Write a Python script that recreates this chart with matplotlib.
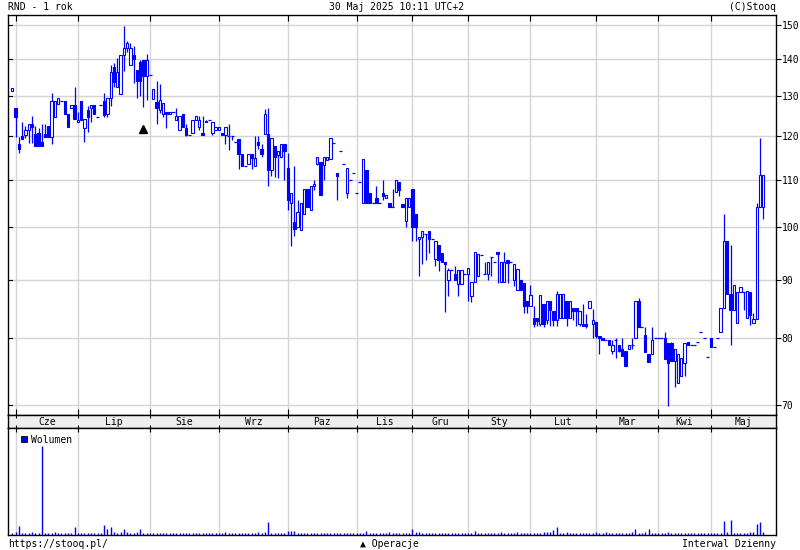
import matplotlib
matplotlib.use("Agg")
import matplotlib.pyplot as plt
from matplotlib.patches import Rectangle
from matplotlib.ticker import FixedLocator, NullLocator, NullFormatter
import matplotlib.transforms as mtrans

# ---------------- data ----------------
opens = [131.5, 126.9, 118.2, 120.0, 120.4, 121.5, 122.9, 120.5, 120.9, 118.6,
         120.5, 122.5, 119.8, 124.8, 128.1, 128.7, 128.7, 125.4, 126.9, 127.7,
         123.4, 128.7, 121.9, 126.5, 126.9, 127.7, 124.8, 127.7, 128.7, 125.4,
         129.7, 137.9, 132.5, 130.7, 141.2, 143.2, 138.5, 141.2, 137.0, 139.4,
         139.7, 135.3, 135.8, 129.4, 128.6, 126.5, 125.4, 126.0, 125.4, 126.0,
         124.0, 121.5, 125.4, 121.9, 120.2, 120.9, 124.0, 122.3, 120.9, 123.7,
         124.0, 120.9, 121.5, 121.5, 120.9, 120.4, 120.0, 120.0, 118.6, 119.4,
         115.8, 113.0, 113.6, 115.8, 113.0, 118.6, 116.9, 120.6, 120.5, 112.2,
         117.7, 115.6, 115.1, 118.2, 112.5, 105.0, 101.0, 100.0, 99.5, 102.6,
         107.9, 103.6, 108.5, 113.5, 113.9, 113.2, 114.5, 114.6, 118.5, 111.4,
         116.5, 113.5, 107.1, 110.0, 111.4, 107.1, 109.5, 105.0, 112.2, 107.1,
         105.0, 106.0, 105.0, 107.1, 106.0, 105.0, 104.2, 107.4, 109.4, 104.7,
         101.2, 104.2, 107.9, 102.6, 97.6, 98.1, 98.7, 99.2, 97.6, 93.8,
         96.5, 94.9, 93.2, 90.0, 91.7, 91.1, 89.3, 89.3, 91.1, 91.1,
         87.1, 89.6, 90.6, 94.6, 91.1, 91.1, 94.1, 93.2, 95.1, 89.6,
         89.6, 93.6, 93.2, 90.0, 88.1, 90.0, 89.4, 86.3, 85.4, 83.4,
         83.4, 82.3, 85.7, 83.0, 86.2, 84.6, 83.0, 83.4, 83.4, 86.2,
         83.4, 85.0, 85.0, 82.3, 82.3, 82.3, 85.0, 82.3, 82.6, 80.4,
         80.0, 79.8, 79.8, 78.0, 79.7, 78.9, 78.3, 78.0, 78.3, 79.0,
         80.0, 86.2, 81.9, 80.6, 77.6, 77.5, 80.0, 80.0, 80.0, 80.0,
         79.25, 79.25, 76.5, 73.1, 74.15, 76.1, 79.4, 78.9, 78.9, 79.4,
         81.1, 80.0, 77.15, 80.0, 78.65, 80.0, 81.0, 85.0, 97.2, 87.5,
         84.7, 82.5, 87.8, 87.8, 83.4, 87.8, 82.5, 83.1, 104.2, 104.2]

highs = [132.2, 126.9, 119.8, 123.6, 122.5, 122.9, 125.0, 122.5, 121.9, 123.0,
         123.0, 122.5, 130.8, 128.7, 129.7, 128.7, 128.7, 125.4, 127.7, 132.5,
         126.0, 128.7, 124.3, 127.5, 127.7, 127.7, 124.8, 127.7, 130.8, 129.7,
         138.5, 139.0, 140.3, 141.2, 149.8, 145.2, 144.6, 143.7, 137.0, 139.8,
         139.7, 141.6, 135.8, 131.8, 134.0, 133.3, 128.3, 126.0, 126.0, 126.0,
         127.0, 125.0, 125.4, 123.1, 120.2, 124.0, 125.0, 125.0, 125.0, 124.0,
         124.0, 123.4, 122.3, 122.3, 120.9, 122.3, 122.9, 120.0, 118.6, 119.4,
         115.8, 113.0, 115.8, 115.8, 120.0, 120.0, 118.2, 126.7, 126.9, 119.5,
         117.7, 116.4, 118.2, 118.2, 116.0, 107.1, 113.1, 105.7, 105.0, 107.9,
         107.9, 108.5, 110.0, 115.1, 113.9, 115.1, 115.1, 119.5, 118.5, 111.4,
         116.5, 113.5, 112.5, 110.0, 111.4, 107.1, 109.5, 114.6, 112.2, 107.1,
         105.0, 108.6, 105.0, 110.0, 106.7, 105.0, 107.9, 110.0, 109.5, 104.7,
         106.0, 106.0, 107.9, 102.6, 98.1, 99.3, 98.7, 99.2, 97.6, 97.3,
         96.5, 94.9, 93.2, 92.2, 91.7, 92.5, 91.7, 91.7, 91.1, 92.1,
         89.6, 95.1, 94.7, 94.6, 93.2, 93.2, 94.1, 93.2, 95.1, 93.2,
         95.1, 93.6, 93.2, 92.8, 91.9, 90.0, 89.4, 86.3, 89.1, 85.4,
         83.4, 87.3, 85.7, 86.2, 86.2, 84.6, 88.0, 87.5, 87.5, 86.2,
         86.2, 85.0, 85.0, 84.6, 85.7, 84.0, 86.2, 84.9, 82.6, 80.4,
         80.0, 79.8, 79.8, 79.8, 80.0, 78.9, 80.0, 78.0, 79.0, 80.0,
         86.2, 86.7, 81.9, 81.9, 77.6, 81.9, 80.0, 80.0, 80.0, 81.0,
         79.25, 79.5, 78.25, 77.5, 76.85, 79.25, 79.4, 78.9, 78.9, 79.4,
         81.1, 80.0, 77.15, 80.0, 78.65, 80.0, 85.0, 102.6, 97.2, 96.5,
         89.0, 87.8, 88.7, 87.8, 88.0, 87.8, 84.2, 105.0, 119.5, 111.0]

lows = [131.4, 119.8, 116.1, 119.4, 119.5, 118.5, 118.5, 117.7, 117.7, 117.7,
        119.8, 119.8, 118.1, 124.8, 128.1, 128.7, 125.4, 122.3, 126.9, 124.2,
        123.4, 124.0, 118.6, 121.0, 123.4, 125.4, 124.8, 127.7, 124.8, 124.8,
        127.6, 132.5, 132.5, 130.7, 136.9, 142.1, 138.5, 133.5, 129.7, 130.0,
        127.3, 129.0, 135.8, 129.4, 122.9, 125.7, 124.8, 121.9, 125.4, 126.0,
        124.0, 121.5, 122.3, 120.0, 120.2, 120.9, 124.0, 121.5, 120.4, 123.4,
        124.0, 120.4, 121.5, 121.5, 120.4, 118.1, 116.7, 119.0, 118.6, 112.4,
        113.0, 113.0, 113.6, 112.4, 113.0, 116.9, 115.0, 120.6, 108.5, 110.8,
        110.6, 110.4, 115.1, 109.9, 103.6, 96.3, 98.2, 100.0, 99.5, 102.6,
        104.2, 103.6, 107.8, 113.2, 106.6, 110.0, 114.5, 114.6, 118.5, 105.7,
        116.5, 113.5, 106.0, 110.0, 111.4, 107.1, 109.5, 105.0, 105.0, 105.0,
        105.0, 105.0, 105.0, 105.7, 106.0, 104.2, 104.2, 107.4, 106.5, 104.2,
        100.0, 104.2, 97.3, 97.3, 90.6, 92.8, 93.7, 94.9, 97.6, 92.5,
        91.6, 93.2, 84.3, 87.1, 91.7, 90.0, 87.1, 89.3, 91.1, 86.3,
        86.0, 89.6, 90.6, 94.6, 91.1, 89.9, 90.6, 93.2, 89.4, 89.6,
        89.6, 89.4, 93.2, 88.9, 88.1, 88.1, 84.2, 84.2, 85.4, 81.9,
        82.0, 82.0, 81.9, 82.3, 82.0, 82.0, 82.0, 83.4, 83.4, 82.0,
        83.4, 83.0, 82.0, 82.0, 82.0, 81.7, 85.0, 80.0, 80.0, 77.6,
        79.8, 79.8, 78.9, 77.6, 76.9, 77.8, 77.3, 75.7, 78.3, 78.3,
        80.0, 81.9, 81.9, 77.9, 76.3, 77.5, 80.0, 80.0, 80.0, 76.75,
        69.9, 76.5, 72.6, 73.1, 74.15, 74.25, 78.9, 78.9, 78.9, 79.4,
        81.1, 80.0, 77.15, 78.65, 78.65, 80.0, 81.0, 85.0, 87.5, 78.9,
        84.7, 82.5, 87.8, 84.7, 83.4, 82.2, 82.5, 83.1, 104.2, 101.6]

closes = [132.1, 124.8, 117.0, 119.4, 121.5, 122.9, 122.3, 117.7, 117.7, 117.7,
          119.8, 119.8, 128.7, 128.7, 129.7, 128.7, 125.4, 122.3, 127.7, 124.2,
          124.0, 124.0, 124.3, 124.8, 127.7, 125.4, 124.8, 127.7, 125.2, 129.7,
          136.5, 133.9, 136.6, 141.2, 143.2, 144.6, 143.2, 140.1, 134.0, 134.0,
          135.3, 139.7, 135.8, 131.8, 126.9, 129.0, 128.3, 125.4, 126.0, 126.0,
          125.0, 125.0, 122.3, 120.2, 120.2, 124.0, 125.0, 124.0, 120.4, 123.4,
          124.0, 123.4, 122.3, 122.3, 120.4, 122.3, 120.0, 120.0, 118.6, 115.8,
          113.0, 113.0, 115.8, 114.9, 114.9, 118.0, 115.8, 125.4, 112.2, 119.5,
          115.1, 116.4, 118.2, 116.4, 105.7, 107.1, 99.6, 103.1, 105.0, 107.9,
          104.2, 108.5, 109.0, 115.1, 106.6, 115.1, 115.1, 119.5, 118.5, 110.8,
          116.5, 113.5, 112.5, 110.0, 111.4, 107.1, 109.5, 114.6, 105.0, 105.0,
          105.0, 105.0, 105.0, 106.5, 106.7, 104.2, 104.2, 110.0, 107.8, 104.2,
          106.0, 106.0, 100.0, 100.0, 98.1, 99.3, 98.7, 97.6, 97.6, 97.3,
          93.7, 93.2, 92.8, 91.7, 91.7, 90.0, 91.7, 91.7, 91.1, 92.1,
          89.6, 95.1, 94.7, 94.6, 91.1, 93.2, 94.1, 93.2, 94.7, 93.2,
          93.3, 93.0, 93.2, 92.8, 91.9, 88.1, 85.4, 85.3, 87.3, 82.3,
          82.9, 87.3, 82.3, 86.2, 84.7, 83.0, 87.5, 87.5, 87.5, 83.4,
          86.2, 84.6, 84.6, 84.6, 82.0, 82.0, 86.2, 83.0, 80.4, 80.0,
          79.8, 79.8, 78.9, 78.9, 79.7, 78.0, 77.3, 75.7, 79.0, 79.0,
          86.2, 81.9, 81.9, 77.9, 76.3, 79.75, 80.0, 80.0, 80.0, 76.75,
          76.1, 76.5, 78.25, 77.5, 76.85, 79.25, 78.9, 78.9, 78.9, 79.4,
          81.1, 80.0, 77.15, 78.65, 78.65, 80.0, 85.0, 97.2, 87.5, 84.7,
          89.0, 87.8, 88.7, 87.8, 88.0, 83.8, 83.1, 104.2, 111.0, 111.0]

volumes = [2, 3, 9, 2, 2, 2, 3, 2, 2, 89,
           2, 2, 2, 3, 2, 2, 2, 2, 2, 8,
           2, 2, 2, 2, 2, 2, 2, 2, 10, 6,
           8, 3, 2, 3, 6, 3, 2, 2, 3, 6,
           2, 2, 2, 2, 2, 2, 2, 2, 2, 2,
           2, 2, 2, 2, 2, 2, 2, 2, 2, 2,
           2, 2, 2, 2, 2, 3, 2, 2, 2, 2,
           2, 2, 2, 2, 2, 3, 2, 3, 13, 2,
           2, 2, 2, 2, 4, 4, 4, 2, 2, 2,
           2, 2, 2, 2, 2, 2, 2, 2, 2, 2,
           2, 2, 2, 2, 2, 2, 2, 2, 4, 2,
           2, 2, 2, 2, 2, 3, 2, 2, 2, 2,
           2, 2, 6, 3, 3, 2, 2, 2, 2, 2,
           2, 2, 2, 2, 2, 2, 2, 2, 2, 2,
           2, 4, 2, 2, 2, 2, 2, 2, 2, 3,
           2, 2, 2, 2, 3, 2, 2, 2, 2, 2,
           2, 2, 3, 3, 3, 5, 8, 2, 2, 3,
           2, 2, 2, 2, 2, 2, 2, 2, 3, 2,
           2, 3, 2, 2, 2, 2, 2, 2, 2, 3,
           6, 2, 2, 3, 6, 2, 2, 2, 2, 2,
           3, 2, 2, 2, 2, 2, 2, 2, 2, 2,
           2, 2, 2, 2, 2, 2, 2, 14, 3, 15,
           2, 2, 2, 2, 2, 3, 3, 11, 13, 3]

month_labels = ["Cze", "Lip", "Sie", "Wrz", "Paz", "Lis", "Gru", "Sty", "Lut", "Mar", "Kwi", "Maj"]
month_starts = [1, 20, 42, 63, 84, 105, 122, 139, 158, 178, 197, 213]
price_ticks = [70, 80, 90, 100, 110, 120, 130, 140, 150]
operation_index = 40
operation_price = 121.8

# ---------------- layout ----------------
W, H = 800, 550
BLUE = "#0000ff"
GRID = "#d4d4d4"
FONT = ["DejaVu Sans Mono", "DejaVu Sans"]
FS = 7

fig = plt.figure(figsize=(W / 100, H / 100), dpi=100)
fig.patch.set_facecolor("white")

def px_rect(x0, y0, x1, y1):
    return [x0 / W, 1 - y1 / H, (x1 - x0) / W, (y1 - y0) / H]

n = len(opens)
px_per = (763.3 - 12.3) / (n - 1)
xlim = ((8 - 12.3) / px_per, (776 - 12.3) / px_per)

ax = fig.add_axes(px_rect(8, 15, 776, 415))
band = fig.add_axes(px_rect(8, 415, 776, 428))
axv = fig.add_axes(px_rect(8, 428, 776, 535))

# ---- main price panel ----
ax.set_yscale("log")
ax.set_xlim(*xlim)
ax.set_ylim(68.61, 153.04)
ax.yaxis.set_major_locator(FixedLocator(price_ticks))
ax.yaxis.set_minor_locator(NullLocator())
ax.yaxis.set_minor_formatter(NullFormatter())
ax.set_yticklabels([str(t) for t in price_ticks])
ax.yaxis.tick_right()
ax.tick_params(axis="y", which="major", direction="out", length=3.5, width=0.8,
               labelsize=FS, pad=0.5, right=True, left=False)
for lab in ax.get_yticklabels():
    lab.set_family(FONT)
ax.set_xticks(month_starts)
ax.tick_params(axis="x", direction="in", length=4, width=0.8, top=True, bottom=True,
               labelbottom=False)
ax.grid(True, which="major", color=GRID, linewidth=1.0)
ax.set_axisbelow(True)
for s in ax.spines.values():
    s.set_linewidth(1.0)
    s.set_color("black")

# left inner ticks
trans = mtrans.blended_transform_factory(ax.transAxes, ax.transData)
for t in price_ticks:
    ax.plot([0, 4 / 768], [t, t], color="black", lw=0.8, transform=trans, clip_on=False, zorder=5)

bw = 0.72
for i in range(n):
    o, h, l, c = opens[i], highs[i], lows[i], closes[i]
    ax.vlines(i, l, h, color=BLUE, lw=0.9, zorder=2)
    lo, hi = min(o, c), max(o, c)
    if c > o:
        ax.add_patch(Rectangle((i - bw / 2, lo), bw, hi - lo, facecolor="white",
                               edgecolor=BLUE, lw=0.8, zorder=3))
    elif c < o:
        ax.add_patch(Rectangle((i - bw / 2, lo), bw, hi - lo, facecolor=BLUE,
                               edgecolor=BLUE, lw=0.8, zorder=3))
    else:
        ax.hlines(o, i - bw / 2 - 0.1, i + bw / 2 + 0.1, color=BLUE, lw=0.9, zorder=3)

ax.plot([operation_index], [operation_price], marker="^", color="black",
        markersize=5.5, linestyle="none", zorder=4)

# ---- month band ----
band.set_xlim(*xlim)
band.set_ylim(0, 1)
band.set_facecolor("#eeeeee")
band.set_yticks([])
band.set_xticks(month_starts)
band.tick_params(axis="x", direction="in", length=2, width=0.8, top=True, bottom=True,
                 labelbottom=False)
ends = month_starts[1:] + [xlim[1]]
for lab, s, e in zip(month_labels, month_starts, ends):
    band.text((s + e) / 2, 0.45, lab, ha="center", va="center", fontsize=FS,
              family=FONT, color="black")
for s in band.spines.values():
    s.set_linewidth(1.0)

# ---- volume panel ----
axv.set_xlim(*xlim)
axv.set_ylim(0, 107)
axv.set_yticks([])
axv.set_xticks(month_starts)
axv.tick_params(axis="x", direction="in", length=3, width=0.8, top=True, bottom=False,
                labelbottom=False)
axv.grid(True, axis="x", color=GRID, linewidth=1.0)
axv.set_axisbelow(True)
axv.vlines(range(n), 0, volumes, color=BLUE, lw=1.0, zorder=2)
for s in axv.spines.values():
    s.set_linewidth(1.0)
axv.add_patch(Rectangle((13 / 768, 0.865), 6 / 768, 6 / 107, transform=axv.transAxes,
                        facecolor=BLUE, edgecolor="black", lw=0.6, zorder=5))
axv.text(23 / 768, 0.89, "Wolumen", transform=axv.transAxes, ha="left", va="center",
         fontsize=FS, family=FONT)

# ---- header / footer ----
fig.text(8 / W, 1 - 7 / H, "RND - 1 rok", ha="left", va="center", fontsize=FS, family=FONT)
fig.text(397 / W, 1 - 7 / H, "30 Maj 2025 10:11 UTC+2", ha="center", va="center",
         fontsize=FS, family=FONT)
fig.text(776 / W, 1 - 7 / H, "(C)Stooq", ha="right", va="center", fontsize=FS, family=FONT)
fig.text(8 / W, 1 - 544 / H, "https://stooq.pl/", ha="left", va="center", fontsize=FS, family=FONT)
fig.text(389 / W, 1 - 544 / H, "\u25B2 Operacje", ha="center", va="center", fontsize=FS, family=FONT)
fig.text(776 / W, 1 - 544 / H, "Interwal Dzienny", ha="right", va="center", fontsize=FS, family=FONT)

fig.savefig("out.png", dpi=100, facecolor="white")
